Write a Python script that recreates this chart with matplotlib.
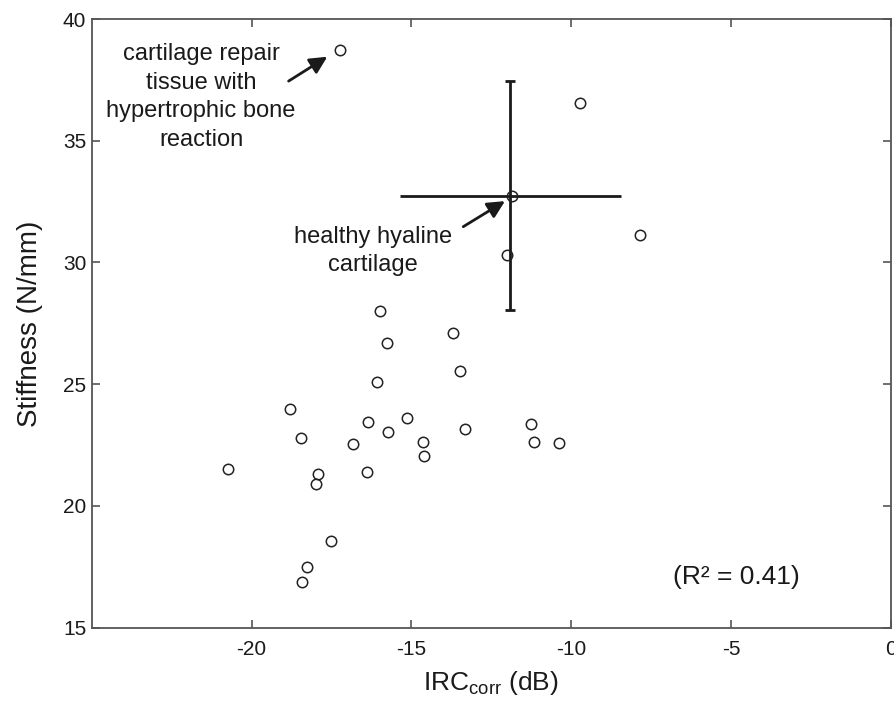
import matplotlib
matplotlib.use("Agg")
import matplotlib.pyplot as plt

plt.rcParams['font.family'] = ['Liberation Sans', 'DejaVu Sans']
plt.rcParams['mathtext.fontset'] = 'custom'
plt.rcParams['mathtext.rm'] = 'Liberation Sans'
plt.rcParams['mathtext.it'] = 'Liberation Sans'

# Data: IRC_corr (dB) vs stiffness (N/mm)
irc = [-17.22, -15.99, -15.75, -9.73, -11.85, -7.86, -12.00, -13.69,
       -16.08, -18.81, -18.45, -16.36, -15.13, -15.72, -16.83, -14.64,
       -14.61, -20.74, -16.40, -17.93, -17.99, -17.51, -18.26, -18.43,
       -13.48, -13.33, -11.24, -11.15, -10.37]
stiffness = [38.72, 28.02, 26.68, 36.54, 32.73, 31.14, 30.31, 27.12,
             25.08, 23.98, 22.78, 23.46, 23.61, 23.04, 22.56, 22.63,
             22.04, 21.52, 21.41, 21.32, 20.89, 18.55, 17.49, 16.86,
             25.55, 23.15, 23.35, 22.63, 22.57]

# Healthy hyaline cartilage: mean +/- SD
healthy_irc_mean = -11.90
healthy_irc_sd = 3.46
healthy_stiff_mean = 32.75
healthy_stiff_sd = 4.70

r2_text = "(R\u00b2 = 0.41)"

fig = plt.figure(figsize=(8.95, 7.04), dpi=100)
ax = fig.add_axes([0.1025, 0.1084, 0.8927, 0.8646])

axis_color = '#555555'
text_color = '#1a1a1a'
ax.errorbar(healthy_irc_mean, healthy_stiff_mean, xerr=healthy_irc_sd,
            fmt='none', ecolor=text_color, elinewidth=2, capsize=0, zorder=2)
ax.errorbar(healthy_irc_mean, healthy_stiff_mean, yerr=healthy_stiff_sd,
            fmt='none', ecolor=text_color, elinewidth=2, capsize=3.5,
            capthick=2, zorder=2)

ax.plot(irc, stiffness, linestyle='none', marker='o', markersize=7.5,
        markerfacecolor='none', markeredgecolor='#222222',
        markeredgewidth=1.1, zorder=3)

ax.set_xlim(-25, 0)
ax.set_ylim(15, 40)
ax.set_xticks([-20, -15, -10, -5, 0])
ax.set_yticks([15, 20, 25, 30, 35, 40])
ax.set_xticklabels(['-20', '-15', '-10', '-5', '0'])
ax.tick_params(direction='in', length=6, width=1.2, color=axis_color,
               labelsize=15, labelcolor=text_color, top=True, right=True)
ax.tick_params(axis='x', pad=9)
ax.tick_params(axis='y', pad=4)
for s in ax.spines.values():
    s.set_color(axis_color)
    s.set_linewidth(1.3)

ax.set_xlabel(r'IRC$_{\mathrm{corr}}$ (dB)', fontsize=19, color=text_color,
              labelpad=7)
ax.set_ylabel('Stiffness (N/mm)', fontsize=20, color=text_color, labelpad=14)

arrow_kw = dict(arrowstyle='-|>', lw=2, color=text_color,
                mutation_scale=26, shrinkA=0, shrinkB=0)

ax.text(-21.58, 36.8, 'cartilage repair\ntissue with\nhypertrophic bone\nreaction',
        ha='center', va='center', fontsize=17, color=text_color,
        linespacing=1.38)
ax.annotate('', xy=(-17.63, 38.45), xytext=(-18.84, 37.45),
            arrowprops=arrow_kw)
ax.text(-16.21, 30.49, 'healthy hyaline\ncartilage', ha='center', va='center',
        fontsize=17, color=text_color, linespacing=1.35)
ax.annotate('', xy=(-12.07, 32.52), xytext=(-13.375, 31.47),
            arrowprops=arrow_kw)

ax.text(-4.83, 17.09, r2_text, ha='center', va='center', fontsize=19,
        color=text_color)

fig.savefig('out.png', dpi=100)
